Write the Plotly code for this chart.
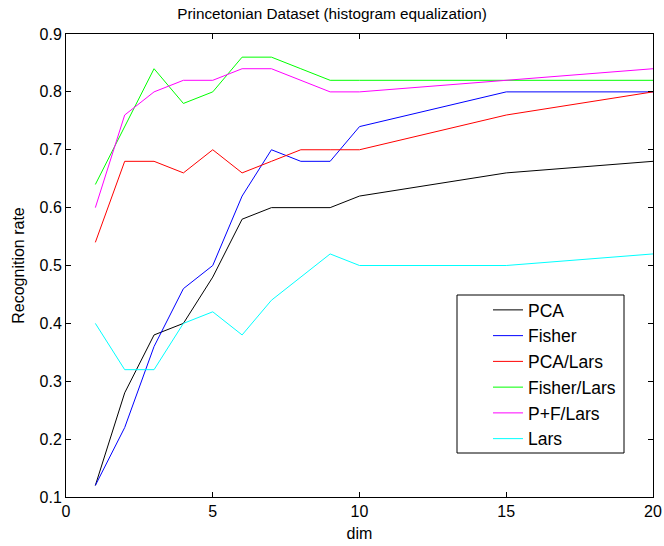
import plotly.graph_objects as go

dims = [1, 2, 3, 4, 5, 6, 7, 8, 9, 10, 15, 20]
pca = [0.12, 0.28, 0.38, 0.40, 0.48, 0.58, 0.60, 0.60, 0.60, 0.62, 0.66, 0.68]
fisher = [0.12, 0.22, 0.36, 0.46, 0.50, 0.62, 0.70, 0.68, 0.68, 0.74, 0.80, 0.80]
pca_lars = [0.54, 0.68, 0.68, 0.66, 0.70, 0.66, 0.68, 0.70, 0.70, 0.70, 0.76, 0.80]
fisher_lars = [0.64, 0.74, 0.84, 0.78, 0.80, 0.86, 0.86, 0.84, 0.82, 0.82, 0.82, 0.82]
pf_lars = [0.60, 0.76, 0.80, 0.82, 0.82, 0.84, 0.84, 0.82, 0.80, 0.80, 0.82, 0.84]
lars = [0.40, 0.32, 0.32, 0.40, 0.42, 0.38, 0.44, 0.48, 0.52, 0.50, 0.50, 0.52]

series = [
    ("PCA", pca, "#000000"),
    ("Fisher", fisher, "#0000ff"),
    ("PCA/Lars", pca_lars, "#ff0000"),
    ("Fisher/Lars", fisher_lars, "#00ff00"),
    ("P+F/Lars", pf_lars, "#ff00ff"),
    ("Lars", lars, "#00ffff"),
]

fig = go.Figure()
for i, (name, vals, col) in enumerate(series):
    fig.add_trace(go.Scatter(x=dims, y=vals, mode="lines", name=name,
                             line=dict(color=col, width=1)))

font = "Liberation Sans, Arial, Helvetica, sans-serif"
axis_common = dict(showline=True, linecolor="black", linewidth=1, mirror="ticks",
                   ticks="inside", ticklen=5, tickcolor="black", showgrid=False,
                   zeroline=False, automargin=False,
                   tickfont=dict(size=16, color="black", family=font))

# plot area: x 66..653, y 34..497
L, R, T, B = 66, 653, 34, 497
W, H = 664, 546
pw, ph = R - L, B - T

def px_x(x):
    return (x - L) / pw

def px_y(y):
    return (B - y) / ph

fig.update_layout(
    width=W, height=H,
    margin=dict(l=L, r=W - R, t=T, b=H - B),
    paper_bgcolor="white", plot_bgcolor="white",
    font=dict(family=font, color="black", size=16),
    title=dict(text="Princetonian Dataset (histogram equalization)", x=0.5, xanchor="center",
               y=1 - 14 / H, yanchor="middle", font=dict(size=15.3, color="black", family=font)),
    xaxis=dict(range=[0, 20], tickvals=[0, 5, 10, 15, 20],
               title=dict(text="dim", standoff=8, font=dict(size=16)), **axis_common),
    yaxis=dict(range=[0.1, 0.9], tickvals=[0.1, 0.2, 0.3, 0.4, 0.5, 0.6, 0.7, 0.8, 0.9],
               tickformat=".1f",
               title=dict(text="Recognition rate", standoff=10, font=dict(size=16)), **axis_common),
    legend=dict(x=px_x(488), y=px_y(292), xanchor="left", yanchor="top",
                borderwidth=0, bgcolor="rgba(0,0,0,0)",
                font=dict(size=17.5, color="black", family=font),
                tracegroupgap=0),
    shapes=[dict(type="rect", xref="paper", yref="paper",
                 x0=px_x(457), x1=px_x(624), y0=px_y(453), y1=px_y(295),
                 line=dict(color="black", width=1), fillcolor="white", layer="below")],
    showlegend=True,
)

fig.write_html("out.html")
